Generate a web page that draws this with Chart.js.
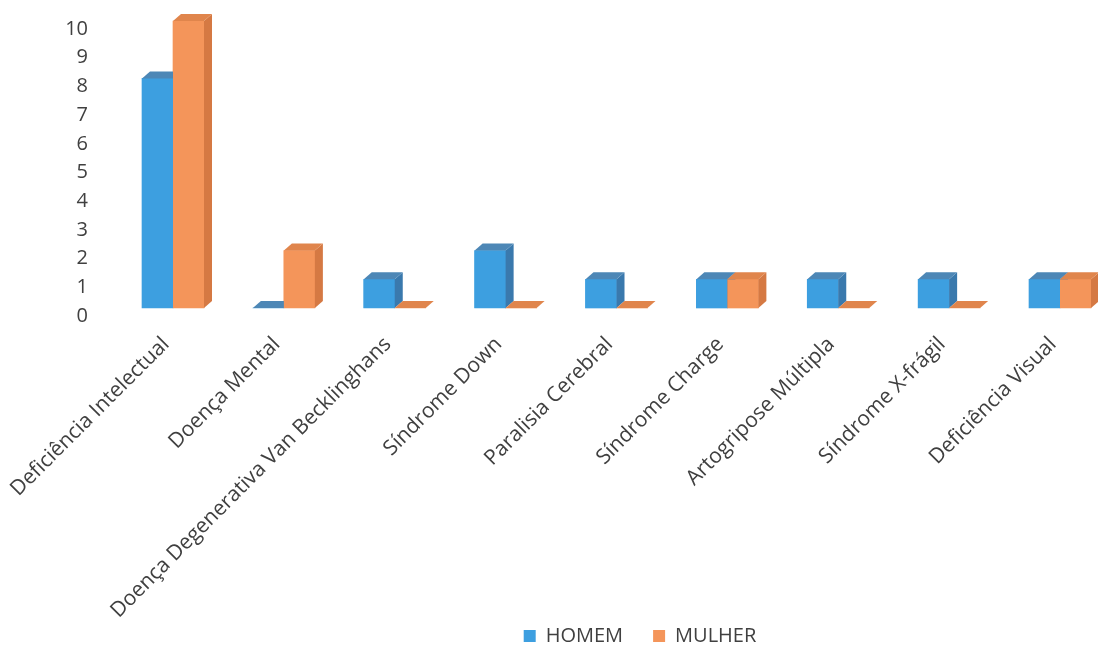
<!DOCTYPE html>
<html>
<head>
<meta charset="utf-8">
<script src="https://cdn.jsdelivr.net/npm/chart.js@4"></script>
<style>
  html, body { margin: 0; padding: 0; background: #ffffff; overflow: hidden; }
  canvas { display: block; }
</style>
</head>
<body>
<canvas id="c" width="1098" height="647"></canvas>
<script>
const categories = [
  "Deficiência Intelectual",
  "Doença Mental",
  "Doença Degenerativa Van Becklinghans",
  "Síndrome Down",
  "Paralisia Cerebral",
  "Síndrome Charge",
  "Artogripose Múltipla",
  "Síndrome X-frágil",
  "Deficiência Visual"
];
const homem  = [8, 0, 1, 2, 1, 1, 1, 1, 1];
const mulher = [10, 2, 0, 0, 0, 1, 0, 0, 1];
const seriesNames = ["HOMEM", "MULHER"];
const yTicks = [0, 1, 2, 3, 4, 5, 6, 7, 8, 9, 10];

const FRONT = ["#3d9fe0", "#f4955a"];
const TOP   = ["#4d87b6", "#e0854c"];
const SIDE  = ["#3a79ad", "#d57943"];
const DX = 8, DY = 7;

function poly(ctx, pts, color) {
  ctx.beginPath();
  ctx.moveTo(pts[0][0], pts[0][1]);
  for (let k = 1; k < pts.length; k++) ctx.lineTo(pts[k][0], pts[k][1]);
  ctx.closePath();
  ctx.fillStyle = color;
  ctx.fill();
}

const bars3d = {
  id: 'bars3d',
  afterLayout(chart) {
    const lg = chart.legend;
    if (lg) {
      const shiftX = 640 - (lg.left + lg.right) / 2;
      lg.left += shiftX; lg.right += shiftX;
      const pad = lg.options.labels.padding;
      lg.top = 636 - (pad + 10);
      lg.bottom = chart.height;
      lg.height = lg.bottom - lg.top;
    }
  },
  afterDatasetsDraw(chart) {
    const ctx = chart.ctx;
    const metas = [chart.getDatasetMeta(0), chart.getDatasetMeta(1)];
    ctx.save();
    for (let i = 0; i < categories.length; i++) {
      metas.forEach((meta, d) => {
        const el = meta.data[i];
        if (!el) return;
        const p = el.getProps(['x', 'y', 'base', 'width'], true);
        const l = p.x - p.width / 2, r = p.x + p.width / 2;
        const top = Math.min(p.y, p.base), bot = Math.max(p.y, p.base);
        ctx.fillStyle = FRONT[d];
        ctx.fillRect(l, top, p.width, bot - top);
        if (bot - top > 0.5) {
          poly(ctx, [[r, top], [r + DX, top - DY], [r + DX, bot - DY], [r, bot]], SIDE[d]);
        }
        poly(ctx, [[l, top], [r, top], [r + DX, top - DY], [l + DX, top - DY]], TOP[d]);
      });
    }
    ctx.restore();
  }
};

Chart.defaults.font.family = "'Open Sans', 'DejaVu Sans', sans-serif";
Chart.defaults.font.size = 20;
Chart.defaults.color = '#404040';

new Chart(document.getElementById('c'), {
  type: 'bar',
  data: {
    labels: categories,
    datasets: [
      { label: seriesNames[0], data: homem, backgroundColor: FRONT[0], borderWidth: 0, clip: false, barThickness: 31 },
      { label: seriesNames[1], data: mulher, backgroundColor: FRONT[1], borderWidth: 0, clip: false, barThickness: 31 }
    ]
  },
  options: {
    responsive: false,
    animation: false,
    layout: { padding: { left: 0, right: 38, top: 21, bottom: 0 } },
    scales: {
      x: {
        offset: false,
        grid: { display: false, drawTicks: false },
        border: { display: false },
        ticks: { autoSkip: false, minRotation: 45, maxRotation: 45, padding: 24, labelOffset: -7, font: { size: 21 } },
        afterFit(scale) { scale.height = 329; scale.paddingLeft = 0; scale.paddingRight = 0; }
      },
      y: {
        min: 0, max: 10,
        grid: { display: false, drawTicks: false },
        border: { display: false },
        afterBuildTicks(scale) { scale.ticks = yTicks.map(v => ({ value: v })); },
        ticks: { autoSkip: false, padding: 85, labelOffset: 8, font: { size: 20 } },
        afterFit(scale) { scale.width = 173; scale.paddingTop = 10; scale.paddingBottom = 10; }
      }
    },
    plugins: {
      legend: {
        position: 'bottom',
        maxHeight: 10,
        labels: { boxWidth: 12, boxHeight: 12, padding: 30, font: { size: 20 }, color: '#404040' }
      },
      tooltip: { enabled: false }
    }
  },
  plugins: [bars3d]
});
</script>
</body>
</html>
